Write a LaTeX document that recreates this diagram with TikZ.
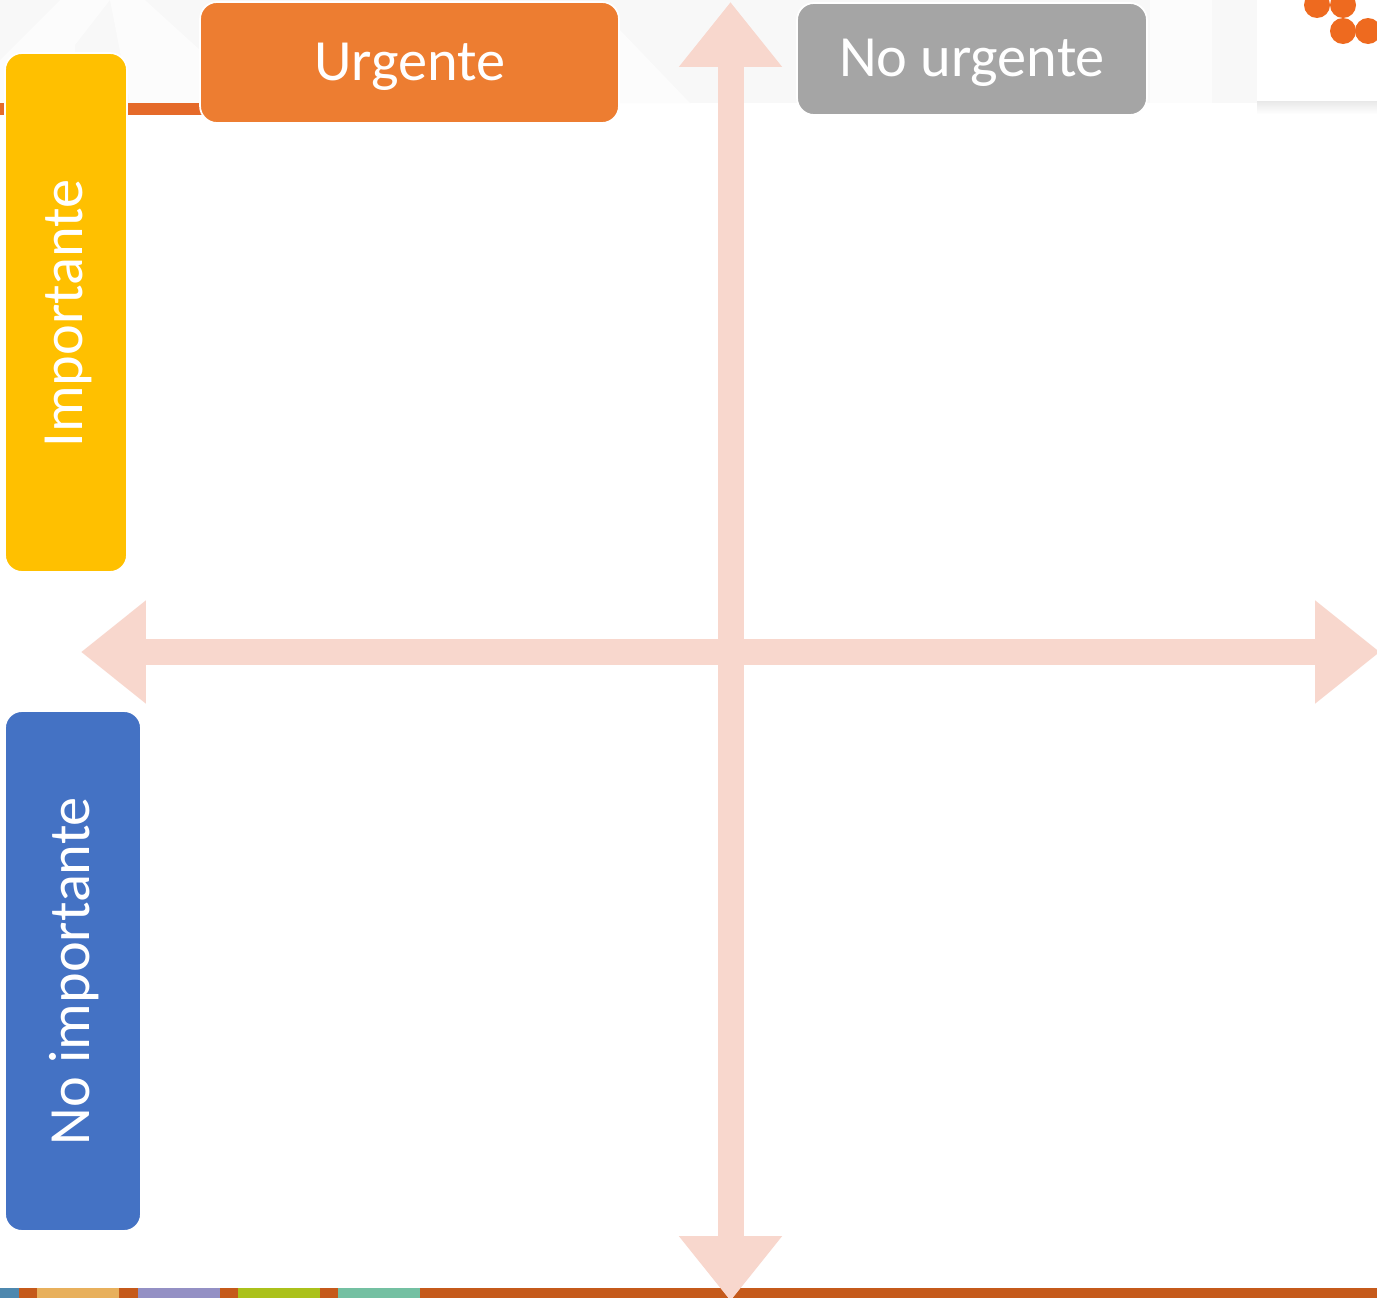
\documentclass[tikz,border=0pt]{standalone}
\usepackage{fontspec}
\setmainfont{Carlito}
\usetikzlibrary{arrows.meta}
\definecolor{brickline}{HTML}{C55A1B}
\definecolor{topbar}{HTML}{E56A2A}
\definecolor{paleaxis}{HTML}{F8D7CD}
\definecolor{logodot}{HTML}{EE6A1F}
\definecolor{strip}{HTML}{F8F8F8}
\definecolor{stripsoft}{HTML}{FCFCFC}
\tikzset{
  tag/.style={draw=white,line width=1pt,rounded corners=0.34cm,text=white,inner sep=0pt,anchor=center},
  tagtext/.style={text=white,font=\fontsize{33.2}{36}\selectfont,inner sep=0pt,anchor=center},
  axis/.style={paleaxis,line width=0.52cm,{Triangle[length=1.3cm,width=1.98cm]}-{Triangle[length=1.3cm,width=1.98cm]}}
}
\begin{document}
\begin{tikzpicture}[x=0.02cm,y=-0.02cm]
\useasboundingbox (0,0) rectangle (1377,1298);
\fill[white](0,0) rectangle (1377,1298);
% faint band on top
\fill[strip] (0,0) rectangle (1257,103);
\fill[stripsoft] (60,0) -- (110,0) -- (75,45) -- (75,103) -- (0,103) -- (0,60) -- cycle;
\fill[stripsoft] (110,0) -- (145,0) -- (200,50) -- (200,103) -- (130,103) -- cycle;
\fill[stripsoft] (620,30) -- (690,103) -- (620,103) -- cycle;
\fill[stripsoft] (1150,0) -- (1212,0) -- (1212,103) -- (1150,103) -- cycle;
% logo corner
\shade[top color=black!9,bottom color=white] (1257,101) rectangle (1377,114);
\fill[white] (1257,0) rectangle (1377,101);
\foreach \x/\y in {1317/5,1343/5,1343/31,1368/31}
  \fill[logodot] (\x,\y) circle (13);
% bars
\fill[topbar] (0,103) rectangle (205,115);
\fill[brickline] (0,1288) rectangle (1377,1298);
\foreach \a/\b/\c in {0/19/4E88AE,37/119/E8B05C,138/220/9490C4,238/320/ABC11B,338/420/74C0A2} {
  \definecolor{band}{HTML}{\c}
  \fill[band] (\a,1288) rectangle (\b,1298);
}
% axes
\coordinate (north) at (730.5,2);
\coordinate (south) at (730.5,1301);
\coordinate (west) at (81,652);
\coordinate (east) at (1380,652);
\draw[axis] (west) -- (east);
\draw[axis] (north) -- (south);
% labels
\node[tag,fill={rgb,255:red,237;green,125;blue,49},minimum width=8.38cm,minimum height=2.42cm] (urgente) at (409.5,62.5) {};
\node[tag,fill={rgb,255:red,165;green,165;blue,165},minimum width=7cm,minimum height=2.24cm] (nourgente) at (972,59) {};
\node[tag,fill={rgb,255:red,255;green,192;blue,0},minimum width=2.44cm,minimum height=10.38cm] (importante) at (66,312.5) {};
\node[tag,fill={rgb,255:red,68;green,114;blue,196},minimum width=2.72cm,minimum height=10.4cm] (noimportante) at (73,971) {};
\node[tagtext] (urgentetext) at (410,66.5) {Urgente};
\node[tagtext] (nourgentetext) at (972,62.5) {No urgente};
\node[tagtext,rotate=90] (importantetext) at (68.5,313.5) {Importante};
\node[tagtext,rotate=90] (noimportantetext) at (74,971) {No importante};
\end{tikzpicture}
\end{document}
